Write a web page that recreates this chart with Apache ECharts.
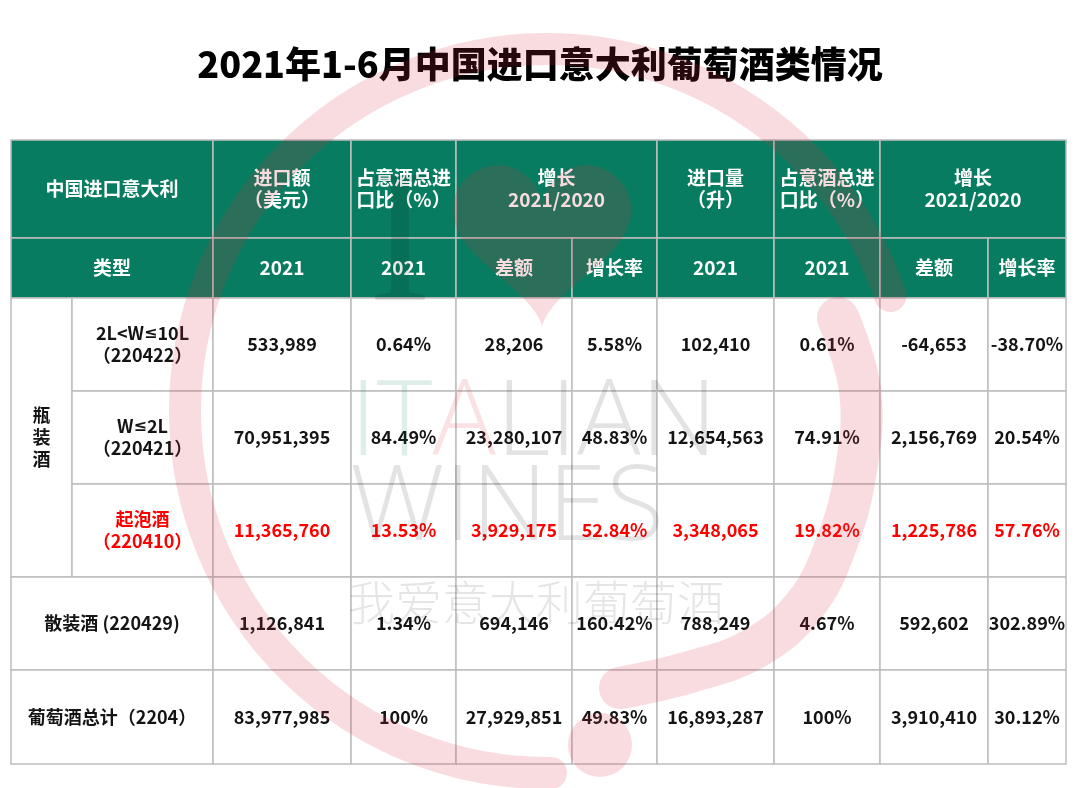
<!DOCTYPE html>
<html>
<head>
<meta charset="utf-8">
<title>2021年1-6月中国进口意大利葡萄酒类情况</title>
<script src="https://cdn.jsdelivr.net/npm/echarts@6/dist/echarts.min.js"></script>
<style>
  html, body { margin: 0; padding: 0; background: #fff; }
  #chart { width: 1080px; height: 788px; }
</style>
</head>
<body>
<div id="chart"></div>
<script>
// ---- data ----
const titleText = '2021年1-6月中国进口意大利葡萄酒类情况'
const headerTop = ['中国进口意大利', '进口额\n（美元）', '占意酒总进\n口比（%）', '增长\n2021/2020', '进口量\n（升）', '占意酒总进\n口比（%）', '增长\n2021/2020']
const headerSub = ['类型', '2021', '2021', '差额', '增长率', '2021', '2021', '差额', '增长率']
const groupName = '瓶\n装\n酒'
const categories = ['2L<W≤10L\n（220422）', 'W≤2L\n（220421）', '起泡酒\n（220410）', '散装酒 (220429)', '葡萄酒总计（2204）']
const highlightRow = 2 // 起泡酒 in red
const importValue = [533989, 70951395, 11365760, 1126841, 83977985]
const valueShare = [0.64, 84.49, 13.53, 1.34, 100]
const valueDiff = [28206, 23280107, 3929175, 694146, 27929851]
const valueGrowth = [5.58, 48.83, 52.84, 160.42, 49.83]
const importVolume = [102410, 12654563, 3348065, 788249, 16893287]
const volumeShare = [0.61, 74.91, 19.82, 4.67, 100]
const volumeDiff = [-64653, 2156769, 1225786, 592602, 3910410]
const volumeGrowth = [-38.70, 20.54, 57.76, 302.89, 30.12]

// ---- layout (table column / row edges in grid units) ----
const colEdges = [0, 61, 202, 340, 445, 561, 646, 763, 869, 977, 1055]
const rowEdges = [0, 98, 158, 251, 344, 437, 530, 624]

const GREEN = '#087c60'
const LINE = '#bdbdbd'
const FONT = '"Noto Sans CJK SC", "Noto Sans", sans-serif'

const fmtNum = v => v.toLocaleString('en-US')
const fmtPct = v => (v === 100 ? '100' : v.toFixed(2)) + '%'

// build cell list: [colStart, colEnd, rowStart, rowEnd]
const cells = []
const addCell = (c0, c1, r0, r1, text, kind) => cells.push({ c0, c1, r0, r1, text, kind })

// header row 1
const topSpans = [[0, 2], [2, 3], [3, 4], [4, 6], [6, 7], [7, 8], [8, 10]]
topSpans.forEach((s, i) => addCell(s[0], s[1], 0, 1, headerTop[i], 'head'))
// header row 2
addCell(0, 2, 1, 2, headerSub[0], 'head')
for (let i = 1; i < headerSub.length; i++) addCell(i + 1, i + 2, 1, 2, headerSub[i], 'head')
// body
addCell(0, 1, 2, 5, groupName, 'body')
categories.forEach((name, i) => {
  const r = i + 2
  const kind = i === highlightRow ? 'red' : 'body'
  if (i < 3) addCell(1, 2, r, r + 1, name, kind)
  else addCell(0, 2, r, r + 1, name, kind)
  const vals = [
    fmtNum(importValue[i]), fmtPct(valueShare[i]), fmtNum(valueDiff[i]), fmtPct(valueGrowth[i]),
    fmtNum(importVolume[i]), fmtPct(volumeShare[i]), fmtNum(volumeDiff[i]), fmtPct(volumeGrowth[i])
  ]
  vals.forEach((t, j) => addCell(j + 2, j + 3, r, r + 1, t, kind))
})

const tableData = cells.map(c => [colEdges[c.c0], rowEdges[c.r0], colEdges[c.c1], rowEdges[c.r1]])

// heart outline of the watermark logo
const heartPts = []
for (let k = 0; k < 60; k++) {
  const t = (k / 60) * Math.PI * 2
  const hx = 16 * Math.pow(Math.sin(t), 3)
  const hy = 13 * Math.cos(t) - 5 * Math.cos(2 * t) - 2 * Math.cos(3 * t) - Math.cos(4 * t)
  heartPts.push([542 + hx * 5.6, 232 - hy * 5.6])
}

const chart = echarts.init(document.getElementById('chart'))

const WM = 'rgba(222, 45, 65, 0.17)'

const option = {
  backgroundColor: '#fff',
  animation: false,
  title: {
    text: titleText,
    left: 'center',
    top: 41,
    textStyle: { fontFamily: FONT, fontSize: 36, fontWeight: 900, color: '#000' }
  },
  grid: { left: 11, top: 140, width: 1055, height: 624 },
  xAxis: { type: 'value', min: 0, max: colEdges[colEdges.length - 1], show: false },
  yAxis: { type: 'value', min: 0, max: rowEdges[rowEdges.length - 1], inverse: true, show: false },
  series: [{
    type: 'custom',
    data: tableData,
    encode: { x: [0, 2], y: [1, 3] },
    renderItem: function (params, api) {
      const c = cells[params.dataIndex]
      const p0 = api.coord([api.value(0), api.value(1)])
      const p1 = api.coord([api.value(2), api.value(3)])
      const head = c.kind === 'head'
      const color = head ? '#fff' : (c.kind === 'red' ? '#ff0000' : '#141414')
      const size = head ? 19 : 18
      return {
        type: 'rect',
        shape: { x: p0[0], y: p0[1], width: p1[0] - p0[0], height: p1[1] - p0[1] },
        style: { fill: head ? GREEN : '#fff', stroke: LINE, lineWidth: 1.5 },
        textContent: {
          style: {
            // narrow ≤ sign as in the source
            text: c.text.replace(/≤/g, '{le|≤}'),
            fill: color,
            fontFamily: FONT,
            fontSize: size,
            fontWeight: 'bold',
            lineHeight: 22,
            align: 'center',
            verticalAlign: 'middle',
            rich: {
              le: { fontFamily: '"DejaVu Sans", sans-serif', fontSize: size - 2, fontWeight: 'bold', fill: color, lineHeight: 22 }
            }
          }
        },
        textConfig: { position: 'inside' }
      }
    }
  }],
  // faint logo watermark over the table
  graphic: [
    {
      type: 'arc', z: 100, silent: true,
      shape: { cx: 547, cy: 411, r: 362, startAngle: 1.56, endAngle: 5.96, clockwise: true },
      style: { stroke: WM, lineWidth: 32, fill: null, lineCap: 'round' }
    },
    {
      type: 'polygon', z: 100, silent: true,
      shape: { points: heartPts },
      style: { fill: WM }
    },
    {
      type: 'polyline', z: 100, silent: true,
      shape: { points: [[838, 318], [860, 390], [856, 470], [836, 545], [805, 605], [755, 648], [690, 672], [620, 688]], smooth: 0.4 },
      style: { stroke: WM, lineWidth: 42, lineCap: 'round', fill: null }
    },
    {
      type: 'circle', z: 100, silent: true,
      shape: { cx: 600, cy: 745, r: 32 },
      style: { fill: WM }
    },
    {
      type: 'text', z: 99, silent: true,
      style: { text: 'I', x: 400, y: 345, align: 'center', verticalAlign: 'bottom', fontFamily: '"Liberation Serif", serif', fontSize: 190, fill: 'rgba(0,0,0,0.10)' }
    },
    {
      type: 'text', z: 99, silent: true,
      style: {
        text: '{g|IT}{r|A}{k|LIAN}', x: 350, y: 425, verticalAlign: 'middle',
        rich: {
          g: { fontFamily: '"Open Sans", sans-serif', fontWeight: 300, fontSize: 106, fill: 'rgba(8,124,96,0.13)' },
          r: { fontFamily: '"Open Sans", sans-serif', fontWeight: 300, fontSize: 106, fill: 'rgba(222,45,65,0.14)' },
          k: { fontFamily: '"Open Sans", sans-serif', fontWeight: 300, fontSize: 106, fill: 'rgba(0,0,0,0.11)' }
        }
      }
    },
    {
      type: 'text', z: 99, silent: true,
      style: { text: 'WINES', x: 350, y: 510, verticalAlign: 'middle', fontFamily: '"Open Sans", sans-serif', fontWeight: 300, fontSize: 106, fill: 'rgba(0,0,0,0.11)' }
    },
    {
      type: 'text', z: 99, silent: true,
      style: { text: '我爱意大利葡萄酒', x: 348, y: 602, verticalAlign: 'middle', fontFamily: FONT, fontWeight: 300, fontSize: 47, fill: 'rgba(0,0,0,0.10)' }
    }
  ]
}

chart.setOption(option)
window.addEventListener('resize', () => chart.resize())
</script>
</body>
</html>
